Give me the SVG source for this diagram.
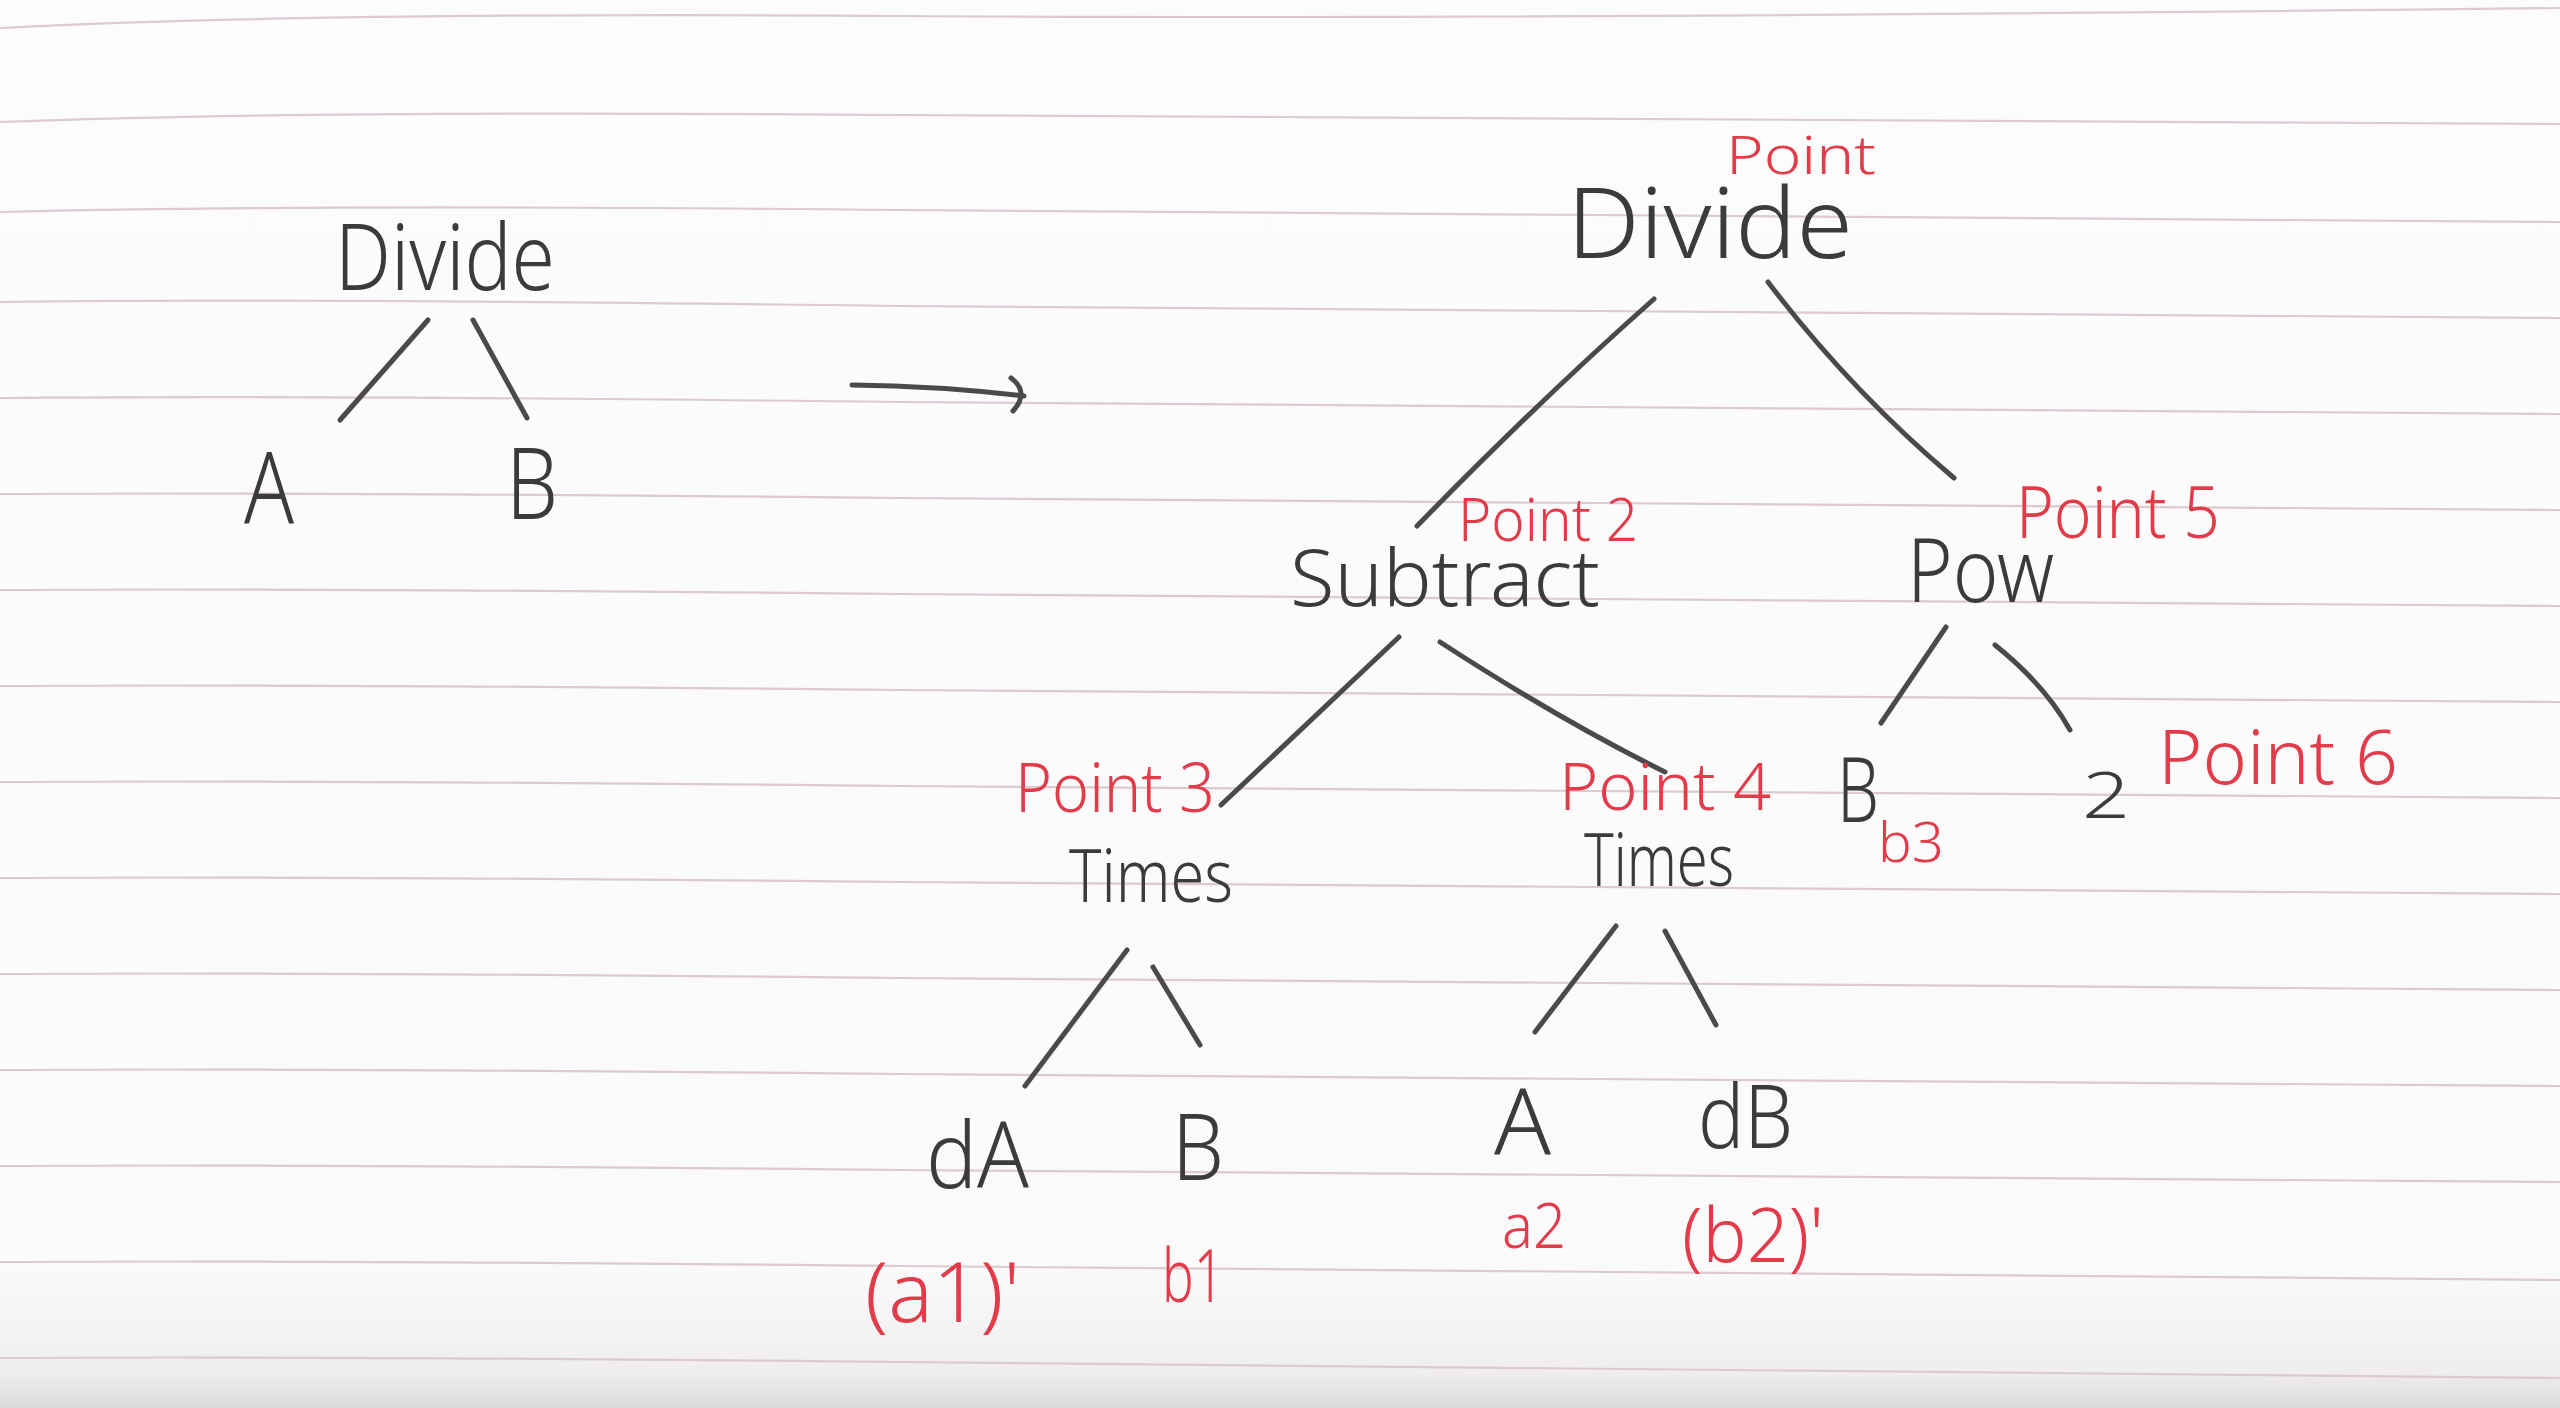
<svg xmlns="http://www.w3.org/2000/svg" width="2560" height="1408" viewBox="0 0 2560 1408">
  <defs>
    <linearGradient id="paper" x1="0" y1="0" x2="0" y2="1">
      <stop offset="0" stop-color="#fdfcfc"/>
      <stop offset="0.9" stop-color="#fbfafa"/>
      <stop offset="0.975" stop-color="#efeded"/>
      <stop offset="1" stop-color="#dcdada"/>
    </linearGradient>
    <style>
      .rule { fill: none; stroke: #dccacd; stroke-width: 2.2; }
      .ink { font-family: "Noto Sans", "Open Sans", "Liberation Sans", sans-serif; font-weight: 300; fill: #3b3b3b; }
      .red { font-family: "Noto Sans", "Open Sans", "Liberation Sans", sans-serif; font-weight: 300; fill: #e23b4a; }
      .edge { fill: none; stroke: #4a4a4a; stroke-width: 5; stroke-linecap: round; stroke-linejoin: round; }
    </style>
  </defs>

  <rect x="0" y="0" width="2560" height="1408" fill="url(#paper)"/>

  <g id="ruled-lines">
    <path class="rule" d="M0,28 Q300,12 900,16 T2560,8"/>
    <path class="rule" d="M0,122 Q300,110 900,115 T2560,124"/>
    <path class="rule" d="M0,212 Q300,204 900,210 T2560,222"/>
    <path class="rule" d="M0,302 Q300,298 900,306 T2560,318"/>
    <path class="rule" d="M0,398 Q300,395 900,402 T2560,414"/>
    <path class="rule" d="M0,494 Q300,492 900,498 T2560,510"/>
    <path class="rule" d="M0,590 Q300,588 900,594 T2560,606"/>
    <path class="rule" d="M0,686 Q300,684 900,690 T2560,702"/>
    <path class="rule" d="M0,782 Q300,780 900,786 T2560,798"/>
    <path class="rule" d="M0,878 Q300,876 900,882 T2560,894"/>
    <path class="rule" d="M0,974 Q300,972 900,978 T2560,990"/>
    <path class="rule" d="M0,1070 Q300,1068 900,1074 T2560,1086"/>
    <path class="rule" d="M0,1166 Q300,1164 900,1170 T2560,1182"/>
    <path class="rule" d="M0,1262 Q300,1260 900,1266 T2560,1280"/>
    <path class="rule" d="M0,1358 Q300,1356 900,1362 T2560,1378"/>
  </g>

  <g id="connectors">
    <path class="edge" d="M428,320 L340,420"/>
    <path class="edge" d="M473,320 L527,418"/>
    <path class="edge" d="M852,385 Q940,386 1024,396"/>
    <path class="edge" d="M1011,378 Q1030,392 1013,411"/>
    <path class="edge" d="M1654,299 Q1540,400 1417,526"/>
    <path class="edge" d="M1768,282 Q1850,390 1954,478"/>
    <path class="edge" d="M1399,637 L1221,805"/>
    <path class="edge" d="M1440,642 Q1560,720 1665,772"/>
    <path class="edge" d="M1946,627 L1881,723"/>
    <path class="edge" d="M1995,645 Q2045,685 2070,730"/>
    <path class="edge" d="M1127,950 L1025,1086"/>
    <path class="edge" d="M1153,967 L1200,1045"/>
    <path class="edge" d="M1616,926 L1535,1032"/>
    <path class="edge" d="M1665,931 L1716,1025"/>
  </g>

  <g id="left-divide"><text class="ink" x="335" y="290" font-size="92" textLength="220" lengthAdjust="spacingAndGlyphs">Divide</text></g>
  <g id="left-a"><text class="ink" x="244" y="524" font-size="100" textLength="50" lengthAdjust="spacingAndGlyphs">A</text></g>
  <g id="left-b"><text class="ink" x="506" y="519" font-size="100" textLength="52" lengthAdjust="spacingAndGlyphs">B</text></g>

  <g id="divide">
    <text class="red" x="1726" y="174" font-size="54" textLength="150" lengthAdjust="spacingAndGlyphs">Point</text>
    <text class="ink" x="1567" y="258" font-size="98" textLength="286" lengthAdjust="spacingAndGlyphs">Divide</text>
  </g>
  <g id="subtract">
    <text class="red" x="1458" y="541" font-size="60" textLength="180" lengthAdjust="spacingAndGlyphs">Point 2</text>
    <text class="ink" x="1290" y="606" font-size="80" textLength="310" lengthAdjust="spacingAndGlyphs">Subtract</text>
  </g>
  <g id="pow">
    <text class="ink" x="1907" y="602" font-size="88" textLength="147" lengthAdjust="spacingAndGlyphs">Pow</text>
    <text class="red" x="2016" y="538" font-size="72" textLength="204" lengthAdjust="spacingAndGlyphs">Point 5</text>
  </g>
  <g id="times1">
    <text class="red" x="1015" y="812" font-size="68" textLength="200" lengthAdjust="spacingAndGlyphs">Point 3</text>
    <text class="ink" x="1069" y="902" font-size="74" textLength="164" lengthAdjust="spacingAndGlyphs">Times</text>
  </g>
  <g id="times2">
    <text class="red" x="1559" y="810" font-size="66" textLength="212" lengthAdjust="spacingAndGlyphs">Point 4</text>
    <text class="ink" x="1584" y="886" font-size="74" textLength="150" lengthAdjust="spacingAndGlyphs">Times</text>
  </g>
  <g id="pow-b">
    <text class="ink" x="1837" y="822" font-size="90" textLength="42" lengthAdjust="spacingAndGlyphs">B</text>
    <text class="red" x="1878" y="862" font-size="56" textLength="66" lengthAdjust="spacingAndGlyphs">b3</text>
  </g>
  <g id="pow-2">
    <text class="ink" x="2082" y="818" font-size="64" textLength="48" lengthAdjust="spacingAndGlyphs">2</text>
    <text class="red" x="2158" y="784" font-size="76" textLength="240" lengthAdjust="spacingAndGlyphs">Point 6</text>
  </g>
  <g id="times1-da">
    <text class="ink" x="926" y="1188" font-size="92" textLength="103" lengthAdjust="spacingAndGlyphs">dA</text>
    <text class="red" x="865" y="1322" font-size="82" textLength="155" lengthAdjust="spacingAndGlyphs">(a1)'</text>
  </g>
  <g id="times1-b">
    <text class="ink" x="1172" y="1180" font-size="92" textLength="52" lengthAdjust="spacingAndGlyphs">B</text>
    <text class="red" x="1162" y="1302" font-size="74" textLength="62" lengthAdjust="spacingAndGlyphs">b1</text>
  </g>
  <g id="times2-a">
    <text class="ink" x="1494" y="1155" font-size="92" textLength="57" lengthAdjust="spacingAndGlyphs">A</text>
    <text class="red" x="1502" y="1248" font-size="62" textLength="64" lengthAdjust="spacingAndGlyphs">a2</text>
  </g>
  <g id="times2-db">
    <text class="ink" x="1698" y="1148" font-size="88" textLength="95" lengthAdjust="spacingAndGlyphs">dB</text>
    <text class="red" x="1682" y="1262" font-size="76" textLength="142" lengthAdjust="spacingAndGlyphs">(b2)'</text>
  </g>
</svg>
